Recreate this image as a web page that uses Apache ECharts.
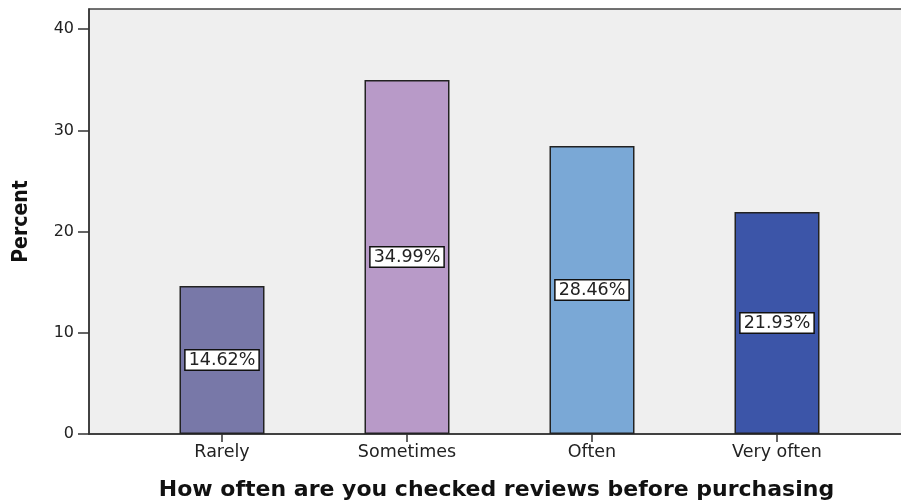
<!DOCTYPE html>
<html>
<head>
<meta charset="utf-8">
<script src="https://cdn.jsdelivr.net/npm/echarts@6/dist/echarts.min.js"></script>
<style>html,body{margin:0;padding:0;background:#fff}#c{width:901px;height:503px}</style>
</head>
<body>
<div id="c"></div>
<script>
const categories = ['Rarely', 'Sometimes', 'Often', 'Very often'];
const percents = [14.62, 34.99, 28.46, 21.93];
const barColors = ['#7878a8', '#b89ac8', '#7aa8d6', '#3c55a8'];
const yTicks = [0, 10, 20, 30, 40];

const chart = echarts.init(document.getElementById('c'), null, {renderer: 'canvas'});
const font = 'DejaVu Sans';
chart.setOption({
  animation: false,
  textStyle: {fontFamily: font},
  grid: [
    {left: 89, right: -3, top: 9, bottom: 69, show: true, backgroundColor: '#efefef', borderColor: '#444', borderWidth: 1.5,
     containLabel: false, outerBoundsMode: 'none'},
    {left: 129.5, right: 31.5, top: 9, bottom: 69, containLabel: false, outerBoundsMode: 'none'}
  ],
  xAxis: [
    {gridIndex: 0, type: 'value', min: 0, max: 1, axisLine: {show: true, onZero: false, lineStyle: {color: '#333', width: 1.5}},
     axisTick: {show: false}, axisLabel: {show: false}, splitLine: {show: false},
     name: 'How often are you checked reviews before purchasing', nameLocation: 'middle', nameGap: 45,
     nameTextStyle: {fontFamily: font, fontSize: 22, fontWeight: 'bold', color: '#111'}},
    {gridIndex: 1, type: 'category', data: categories, axisLine: {show: false},
     axisTick: {show: true, alignWithLabel: true, length: 8, lineStyle: {color: '#333', width: 1.5}},
     axisLabel: {fontFamily: font, fontSize: 17.5, color: '#222', margin: 9}}
  ],
  yAxis: [
    {gridIndex: 0, type: 'value', min: 0, max: 42, interval: 10,
     axisLine: {show: true, lineStyle: {color: '#333', width: 1.5}},
     axisTick: {show: true, length: 11, customValues: yTicks, lineStyle: {color: '#333', width: 1.5}},
     axisLabel: {fontFamily: font, fontSize: 16, color: '#222', margin: 15, customValues: yTicks},
     splitLine: {show: false},
     name: 'Percent', nameLocation: 'middle', nameGap: 57, nameRotate: 90,
     nameTextStyle: {fontFamily: "'DejaVu Sans Condensed', 'DejaVu Sans'", fontSize: 21, fontWeight: 'bold', color: '#111'}},
    {gridIndex: 1, type: 'value', min: 0, max: 42, show: false}
  ],
  series: [{
    type: 'bar', xAxisIndex: 1, yAxisIndex: 1,
    barWidth: 85,
    data: percents.map((v, i) => ({value: v, itemStyle: {color: barColors[i]}})),
    itemStyle: {borderColor: '#222', borderWidth: 1.5},
    label: {show: true, position: 'inside', formatter: p => p.value.toFixed(2) + '%',
      fontFamily: font, fontSize: 17.5, color: '#222', backgroundColor: '#fff',
      borderColor: '#111', borderWidth: 1.5, padding: [1, 3, 0, 3]}
  }]
});
</script>
</body>
</html>
